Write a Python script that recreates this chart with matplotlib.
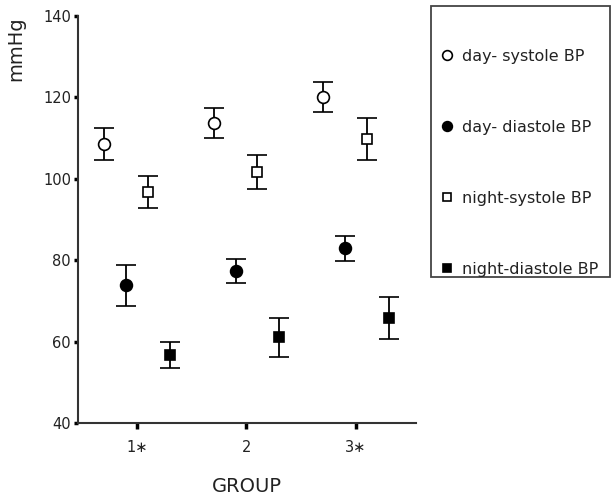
import matplotlib
matplotlib.use("Agg")
import matplotlib.pyplot as plt
from matplotlib.lines import Line2D
from matplotlib.patches import Rectangle
import numpy as np

# group labels and series (mean, half error bar)
groups = ["1\u2217", "2", "3\u2217"]
day_sys = [108.6, 113.7, 120.1]
day_sys_err = [4.0, 3.6, 3.7]
day_dia = [73.8, 77.4, 82.9]
day_dia_err = [5.0, 3.0, 3.1]
night_sys = [96.7, 101.7, 109.8]
night_sys_err = [3.9, 4.2, 5.2]
night_dia = [56.7, 61.1, 65.8]
night_dia_err = [3.2, 4.8, 5.2]

series = [
    ("day- systole BP", day_sys, day_sys_err, "o", "white", 8.5, -0.3),
    ("day- diastole BP", day_dia, day_dia_err, "o", "black", 8.5, -0.1),
    ("night-systole BP", night_sys, night_sys_err, "s", "white", 7, 0.1),
    ("night-diastole BP", night_dia, night_dia_err, "s", "black", 7, 0.3),
]

txt = "#222222"
plt.rcParams["font.family"] = "DejaVu Sans"

fig = plt.figure(figsize=(6.12, 4.97), dpi=100)
ax = fig.add_axes([78 / 612, 1 - 423 / 497, 338 / 612, 407 / 497])

x = np.arange(1, len(groups) + 1)
handles = []
for name, vals, err, mk, fc, ms, off in series:
    ax.errorbar(x + off, vals, yerr=err, fmt=mk, mfc=fc, mec="black",
                mew=1.2, ms=ms, ecolor="black", elinewidth=1.3,
                capsize=7.5, capthick=1.3)
    handles.append(Line2D([], [], marker=mk, linestyle="none", mfc=fc,
                          mec="black", mew=1.2, ms=ms - 1.5, label=name))

ax.set_xlim(0.46, 3.55)
ax.set_ylim(40, 140)
ax.set_yticks([40, 60, 80, 100, 120, 140])
ax.set_xticks(x)
ax.set_xticklabels(groups)

for s in ["top", "right"]:
    ax.spines[s].set_visible(False)
for s in ["left", "bottom"]:
    ax.spines[s].set_linewidth(1.5)
    ax.spines[s].set_color("#333333")

ax.tick_params(axis="y", length=3, width=2.5, pad=2, labelsize=10.5,
               labelcolor=txt, color="black")
ax.tick_params(axis="x", length=4, width=2.5, pad=8, labelsize=10.5,
               labelcolor=txt, color="black")

ax.set_xlabel("GROUP", fontsize=14, color=txt)
ax.set_ylabel("mmHg", fontsize=14, color=txt)
ax.xaxis.set_label_coords(0.5, -0.133)
ax.yaxis.set_label_coords(-0.157, 0.919)

# legend box
fig.patches.append(Rectangle((431 / 612, 1 - 277 / 497), 179 / 612, 271 / 497,
                             transform=fig.transFigure, fill=False,
                             edgecolor="#444444", linewidth=1.3))
fig.legend(handles=handles, loc="upper left",
           bbox_to_anchor=(439 / 612, 1 - 49 / 497), frameon=False,
           fontsize=11.5, labelspacing=3.5, handlelength=1.0,
           handletextpad=0.45, borderpad=0, borderaxespad=0,
           labelcolor=txt)

fig.savefig("out.png", dpi=100)
